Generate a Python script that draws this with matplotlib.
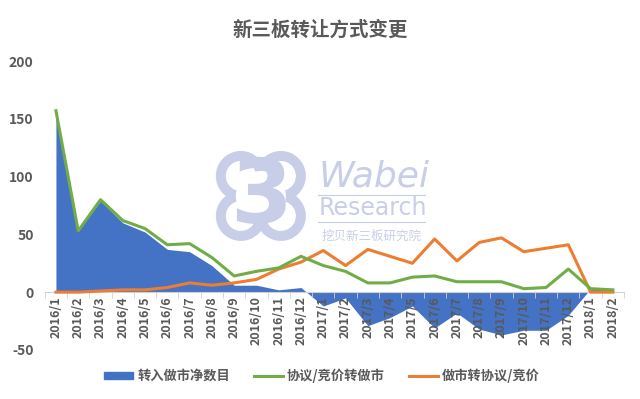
import matplotlib
matplotlib.use("Agg")
import matplotlib.pyplot as plt
import numpy as np
from matplotlib.patches import Patch, Ellipse
from matplotlib.lines import Line2D

plt.rcParams['font.family'] = ['Noto Sans CJK SC', 'DejaVu Sans']
plt.rcParams['axes.unicode_minus'] = False

months = ["2016/1", "2016/2", "2016/3", "2016/4", "2016/5", "2016/6", "2016/7",
          "2016/8", "2016/9", "2016/10", "2016/11", "2016/12",
          "2017/1", "2017/2", "2017/3", "2017/4", "2017/5", "2017/6", "2017/7",
          "2017/8", "2017/9", "2017/10", "2017/11", "2017/12", "2018/1", "2018/2"]
net_in = [155, 53, 79, 60, 52, 37, 35, 23, 6, 6, 2, 4,
          -12, -5, -29, -22, -12, -31, -18, -32, -37, -33, -33, -20, 3, 2]
to_mm = [157, 53, 80, 62, 55, 41, 42, 30, 14, 18, 21, 31,
         23, 18, 8, 8, 13, 14, 9, 9, 9, 3, 4, 20, 3, 2]
from_mm = [0, 0, 1, 2, 2, 4, 8, 6, 8, 11, 20, 26,
           36, 23, 37, 31, 25, 46, 27, 43, 47, 35, 38, 41, 0, 0]

BLUE = "#4472C4"
GREEN = "#70AD47"
ORANGE = "#ED7D31"
GREY = "#595959"
WM = "#c8cee8"

fig = plt.figure(figsize=(6.4, 3.99), dpi=100)
ax = fig.add_axes([0.070, 0.123, 0.905, 0.724])

x = np.arange(len(months))

# watermark logo: cloud ring made of four lobes, with a "3" inside
axw, axh = 579.0, 289.0
cx, cy = 0.373, 0.533
off = 20
for r, col in [(25, WM), (15, "white")]:
    for dx in (-off, off):
        for dy in (-off, off):
            ax.add_patch(Ellipse((cx + dx / axw, cy + dy / axh), 2 * r / axw, 2 * r / axh,
                                 transform=ax.transAxes, color=col, lw=0, zorder=0))
ax.add_patch(Ellipse((cx, cy), 50 / axw, 50 / axh, transform=ax.transAxes,
                     color="white", lw=0, zorder=0))
ax.text(cx, cy - 0.01, "3", transform=ax.transAxes, fontsize=64, fontweight="bold",
        color=WM, ha="center", va="center", zorder=0, family="DejaVu Sans")
ax.text(0.472, 0.60, "Wabei", transform=ax.transAxes, fontsize=26, style="italic",
        color=WM, ha="left", va="center", zorder=0, family="DejaVu Sans")
ax.text(0.472, 0.49, "Research", transform=ax.transAxes, fontsize=17,
        color=WM, ha="left", va="center", zorder=0, family="DejaVu Sans")
ax.text(0.477, 0.394, "挖贝新三板研究院", transform=ax.transAxes, fontsize=9,
        color=WM, ha="left", va="center", zorder=0)
for yl in (0.536, 0.443):
    ax.plot([0.471, 0.656], [yl, yl], transform=ax.transAxes, color=WM, lw=0.8, zorder=0)

ax.fill_between(x, net_in, 0, color=BLUE, linewidth=0, zorder=1)
ax.plot(x, to_mm, color=GREEN, lw=2.2, zorder=4)
ax.plot(x, from_mm, color=ORANGE, lw=2.2, zorder=3)
ax.set_axisbelow(False)

ax.set_xlim(-0.5, len(months) - 0.5)
ax.set_ylim(-50, 200)
ax.set_yticks([-50, 0, 50, 100, 150, 200])
ax.tick_params(axis="y", length=0, labelsize=10, colors=GREY, pad=8)
for t in ax.get_yticklabels():
    t.set_fontweight("bold")

for s in ["top", "right", "left"]:
    ax.spines[s].set_visible(False)
ax.spines["bottom"].set_position(("data", 0))
ax.spines["bottom"].set_color("#d0d0d0")

ax.set_xticks(x)
ax.set_xticklabels(months, rotation=90, fontsize=9, fontweight="bold", color=GREY)
ax.set_xticks(np.arange(-0.5, len(months)), minor=True)
ax.tick_params(axis="x", which="major", length=0, pad=3)
ax.tick_params(axis="x", which="minor", length=4, color="#d0d0d0")

fig.text(0.5, 0.925, "新三板转让方式变更", ha="center", va="center",
         fontsize=14, fontweight="bold", color=GREY)

handles = [Patch(color=BLUE), Line2D([], [], color=GREEN, lw=2.2),
           Line2D([], [], color=ORANGE, lw=2.2)]
labels = ["转入做市净数目", "协议/竞价转做市", "做市转协议/竞价"]
leg = fig.legend(handles, labels, loc="center", bbox_to_anchor=(0.503, 0.058), ncol=3,
                 frameon=False, handlelength=2.2, handletextpad=0.3, columnspacing=1.8,
                 handleheight=0.5, prop={"weight": "bold", "size": 9.5})
for t in leg.get_texts():
    t.set_color(GREY)

fig.savefig("out.png", dpi=100)
